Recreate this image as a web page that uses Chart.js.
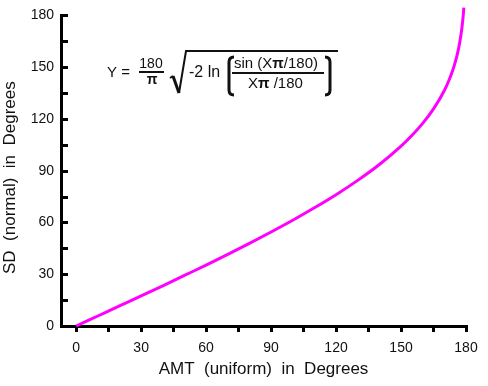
<!DOCTYPE html>
<html>
<head>
<meta charset="utf-8">
<script src="https://cdn.jsdelivr.net/npm/chart.js@4.4.1/dist/chart.umd.min.js"></script>
<style>
  html, body { margin: 0; padding: 0; background: #fff; }
  #wrap { width: 488px; height: 386px; }
</style>
</head>
<body>
<div id="wrap"><canvas id="mainChart" width="488" height="386"></canvas></div>
<script>
// values
const amt = [0, 10, 20, 30, 40, 50, 60, 70, 80, 90, 100, 110, 120, 130, 140, 150, 155, 160, 165, 170, 172, 174, 175, 176, 177, 178, 178.5, 179];
const sd = [0, 5.8, 11.6, 17.4, 23.3, 29.3, 35.3, 41.5, 47.9, 54.5, 61.3, 68.5, 76.1, 84.4, 93.6, 104.3, 110.4, 117.4, 125.8, 136.5, 142.0, 148.7, 152.8, 157.6, 163.6, 171.7, 177.1, 184.5];
const xTicks = [0, 15, 30, 45, 60, 75, 90, 105, 120, 135, 150, 165, 180];
const yTicks = [0, 15, 30, 45, 60, 75, 90, 105, 120, 135, 150, 165, 180];
const yTitle = 'SD  (normal)  in  Degrees';

const ink = '#111';
const font = '"Liberation Sans", Arial, sans-serif';

const points = amt.map((v, i) => ({ x: v, y: sd[i] }));

// formula text, y title, inward y ticks
const extras = {
    id: 'extras',
    afterDraw(chart) {
        const ctx = chart.ctx;
        const ys = chart.scales.y;
        const left = chart.chartArea.left;
        ctx.save();
        ctx.strokeStyle = '#000';
        ctx.lineWidth = 3;
        yTicks.forEach(v => {
            if (v === 0) return;
            const p = Math.round(ys.getPixelForValue(v)) + 0.5;
            ctx.beginPath();
            ctx.moveTo(left, p);
            ctx.lineTo(left + 7, p);
            ctx.stroke();
        });

        ctx.fillStyle = ink;
        ctx.save();
        ctx.translate(10, ys.getPixelForValue(86));
        ctx.rotate(-Math.PI / 2);
        ctx.textAlign = 'center';
        ctx.textBaseline = 'middle';
        ctx.font = '17px ' + font;
        ctx.fillText(yTitle, 0, 0);
        ctx.restore();

        ctx.strokeStyle = ink;
        ctx.textBaseline = 'alphabetic';
        ctx.textAlign = 'left';
        ctx.font = '15px ' + font;
        ctx.fillText('Y =', 107, 77);

        ctx.textAlign = 'center';
        ctx.font = '14px ' + font;
        ctx.fillText('180', 151, 68);
        ctx.lineWidth = 2;
        ctx.beginPath(); ctx.moveTo(139, 72); ctx.lineTo(164, 72); ctx.stroke();
        ctx.font = 'bold 14px ' + font;
        ctx.fillText('π', 152, 84);

        // radical
        ctx.lineWidth = 2;
        ctx.beginPath();
        ctx.moveTo(170, 78);
        ctx.lineTo(173, 76);
        ctx.stroke();
        ctx.lineWidth = 3;
        ctx.beginPath();
        ctx.moveTo(173, 76);
        ctx.lineTo(179, 93);
        ctx.stroke();
        ctx.lineWidth = 2;
        ctx.beginPath();
        ctx.moveTo(179, 93);
        ctx.lineTo(186, 51);
        ctx.lineTo(338, 51);
        ctx.stroke();

        ctx.textAlign = 'left';
        ctx.font = '16px ' + font;
        ctx.fillText('-2 ln', 189, 77);

        // brackets
        ctx.lineWidth = 3;
        ctx.beginPath();
        ctx.moveTo(234, 57); ctx.quadraticCurveTo(229, 57, 229, 62); ctx.lineTo(229, 90); ctx.quadraticCurveTo(229, 95, 234, 95);
        ctx.stroke();
        ctx.beginPath();
        ctx.moveTo(325, 57); ctx.quadraticCurveTo(330, 57, 330, 62); ctx.lineTo(330, 90); ctx.quadraticCurveTo(330, 95, 325, 95);
        ctx.stroke();

        const runs = (parts, x, y) => {
            parts.forEach(([t, f]) => {
                ctx.font = f;
                ctx.fillText(t, x, y);
                x += ctx.measureText(t).width;
            });
        };
        const reg = '15px ' + font, bld = 'bold 15px ' + font;
        runs([['sin (X', reg], ['π', bld], ['/180)', reg]], 234, 68);
        ctx.lineWidth = 2;
        ctx.beginPath(); ctx.moveTo(232, 73); ctx.lineTo(324, 73); ctx.stroke();
        runs([['X', reg], ['π', bld], [' /180', reg]], 248, 88);
        ctx.restore();
    }
};

new Chart(document.getElementById('mainChart'), {
    type: 'line',
    data: {
        datasets: [{
            data: points,
            borderColor: '#ff00ff',
            borderWidth: 3,
            pointRadius: 0,
            fill: false,
            cubicInterpolationMode: 'monotone',
            clip: false
        }]
    },
    options: {
        responsive: false,
        animation: false,
        layout: { padding: { left: 0, right: 22, top: 14, bottom: 0 } },
        plugins: { legend: { display: false }, tooltip: { enabled: false } },
        scales: {
            x: {
                type: 'linear',
                min: -7,
                max: 180,
                afterBuildTicks: s => { s.ticks = xTicks.map(v => ({ value: v })); },
                afterFit: s => { s.height = 60; },
                border: { display: true, color: '#000', width: 3 },
                grid: { drawOnChartArea: false, drawTicks: true, tickLength: 6, color: '#000', lineWidth: 3 },
                ticks: {
                    autoSkip: false,
                    maxRotation: 0,
                    padding: 8,
                    color: ink,
                    font: { family: font, size: 14 },
                    callback: v => (v % 30 === 0 ? v : '')
                },
                title: {
                    display: true,
                    text: 'AMT  (uniform)  in  Degrees',
                    color: ink,
                    font: { family: font, size: 17 },
                    padding: { top: 0, bottom: 6 }
                }
            },
            y: {
                type: 'linear',
                min: 0,
                max: 180,
                afterBuildTicks: s => { s.ticks = yTicks.map(v => ({ value: v })); },
                afterFit: s => { s.width = 61; },
                border: { display: true, color: '#000', width: 3 },
                grid: { display: false, drawTicks: false },
                ticks: {
                    autoSkip: false,
                    padding: 7,
                    color: ink,
                    font: { family: font, size: 14 },
                    callback: v => (v % 30 === 0 ? v : '')
                },
                title: { display: false }
            }
        }
    },
    plugins: [extras]
});
</script>
</body>
</html>
